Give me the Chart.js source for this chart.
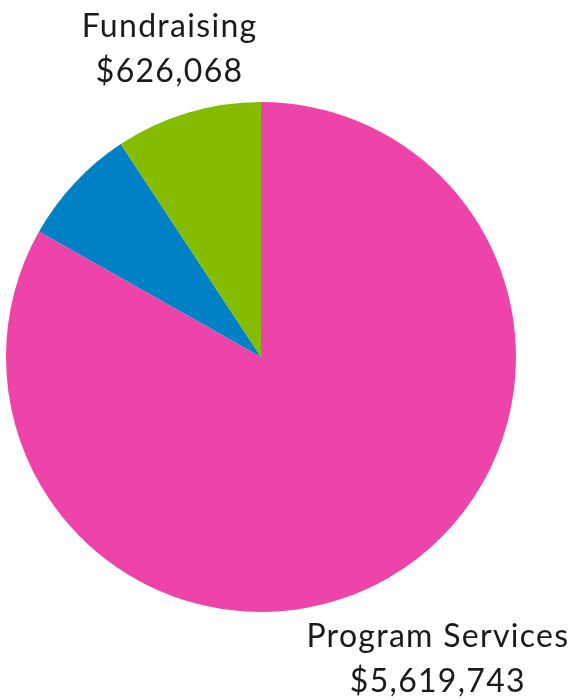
<!DOCTYPE html>
<html>
<head>
<meta charset="utf-8">
<script src="https://cdn.jsdelivr.net/npm/chart.js@4/dist/chart.umd.min.js"></script>
<style>
  html, body { margin: 0; padding: 0; background: #fff; }
  #wrap { width: 575px; height: 700px; position: relative; }
</style>
</head>
<body>
<div id="wrap"><canvas id="expenseChart"></canvas></div>
<script>
const categories = ['Program Services', 'Management & General', 'Fundraising'];
const amounts = [5619743, 509600, 626068];
const showLabel = [true, false, true];
const sliceColors = ['#EE44AA', '#0081C6', '#85BC00'];

// how far past the pie edge each label sits
const labelGap = [94, 0, 67];

const outsideLabels = {
    id: 'outsideLabels',
    afterDatasetsDraw(chart) {
        const ctx = chart.ctx;
        const arcs = chart.getDatasetMeta(0).data;
        ctx.save();
        ctx.font = '32px Lato';
        ctx.letterSpacing = '1.3px';
        ctx.fillStyle = '#1a1a1a';
        ctx.textAlign = 'center';
        ctx.textBaseline = 'alphabetic';
        arcs.forEach((arc, i) => {
            if (!showLabel[i]) return;
            const mid = (arc.startAngle + arc.endAngle) / 2;
            const r = arc.outerRadius + labelGap[i];
            const cx = arc.x + Math.cos(mid) * r + 1;
            const cy = arc.y + Math.sin(mid) * r;
            ctx.fillText(categories[i], cx, cy - 11.5);
            ctx.fillText('$' + amounts[i].toLocaleString('en-US'), cx, cy + 33.5);
        });
        ctx.restore();
    }
};

new Chart(document.getElementById('expenseChart'), {
    type: 'pie',
    data: {
        labels: categories,
        datasets: [{
            data: amounts,
            backgroundColor: sliceColors,
            borderWidth: 0,
        }],
    },
    options: {
        responsive: true,
        maintainAspectRatio: false,
        animation: false,
        layout: {
            padding: { left: 6, right: 59, top: 102, bottom: 88 },
        },
        plugins: {
            legend: { display: false },
            tooltip: { enabled: false },
        },
    },
    plugins: [outsideLabels],
});
</script>
</body>
</html>
